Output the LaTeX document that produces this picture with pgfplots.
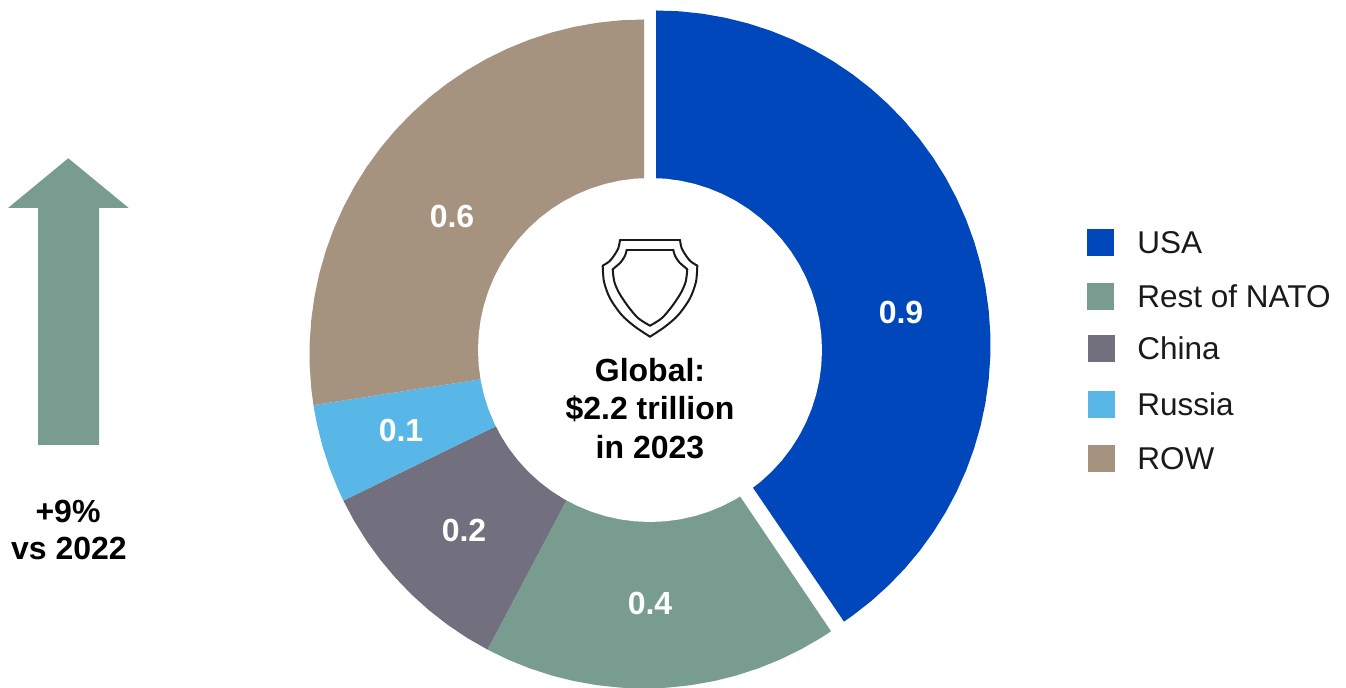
\documentclass[border=0pt]{standalone}
\usepackage{fontspec}
\setmainfont{Liberation Sans}
\usepackage{pgfplots}
\pgfplotsset{compat=1.18}
\definecolor{usa}{HTML}{0047BB}
\definecolor{nato}{HTML}{789D90}
\definecolor{china}{HTML}{72707F}
\definecolor{russia}{HTML}{59B7E8}
\definecolor{row}{HTML}{A59380}
\definecolor{ink}{HTML}{1A1A1A}
\tikzset{
  lab/.style={font=\fontsize{16}{16}\selectfont\bfseries, text=white, anchor=base, inner sep=0pt},
  blk/.style={font=\fontsize{16}{16}\selectfont\bfseries, text=black, anchor=base, inner sep=0pt},
  leg/.style={font=\fontsize{15.75}{15.75}\selectfont, text=ink, anchor=base west, inner sep=0pt},
}
\begin{document}
\begin{tikzpicture}
\path[use as bounding box] (0,0) rectangle (673pt,344pt);
% one axis unit is one pixel of the reference; origin at the centre of the ring
\begin{axis}[
    at={(0,0)}, anchor=south west,
    x=0.5pt, y=0.5pt,
    xmin=-644, xmax=702, ymin=-334, ymax=354,
    hide axis, clip=false,
    wedge/.style={draw=none, data cs=polar, forget plot},
    shield/.style={draw=ink, line width=1pt, no markers, line join=round, line cap=round, forget plot},
    swatch/.style={draw=none, fill=#1, forget plot},
]
% USA, pulled out from the ring
\addplot[wedge, fill=usa, xshift=6pt, yshift=4.5pt] coordinates {
  (0,0) (90,334.5) (86,334.5) (82,334.5) (78,334.5) (74,334.5) (70,334.5) (66,334.5) (62,334.5)
  (58,334.5) (54,334.5) (50,334.5) (46,334.5) (42,334.5) (38,334.5) (34,334.5) (30,334.5) (26,334.5)
  (22,334.5) (18,334.5) (14,334.5) (10,334.5) (6,334.5) (2,334.5) (-2,334.5) (-6,334.5) (-10,334.5)
  (-14,334.5) (-18,334.5) (-22,334.5) (-26,334.5) (-30,334.5) (-34,334.5) (-38,334.5) (-42,334.5)
  (-46,334.5) (-50,334.5) (-54,334.5) (-55.8,334.5)} -- cycle;
% Rest of NATO
\addplot[wedge, fill=nato] coordinates {
  (0,0) (242.1,334.5) (246,334.5) (250,334.5) (254,334.5) (258,334.5) (262,334.5) (266,334.5)
  (270,334.5) (274,334.5) (278,334.5) (282,334.5) (286,334.5) (290,334.5) (294,334.5) (298,334.5)
  (302,334.5) (304,334.5)} -- cycle;
% China
\addplot[wedge, fill=china] coordinates {
  (0,0) (206,334.5) (210,334.5) (214,334.5) (218,334.5) (222,334.5) (226,334.5) (230,334.5)
  (234,334.5) (238,334.5) (242.1,334.5)} -- cycle;
% Russia
\addplot[wedge, fill=russia] coordinates {
  (0,0) (188.8,334.5) (192,334.5) (196,334.5) (200,334.5) (204,334.5) (206,334.5)} -- cycle;
% ROW
\addplot[wedge, fill=row] coordinates {
  (0,0) (90,334.5) (94,334.5) (98,334.5) (102,334.5) (106,334.5) (110,334.5) (114,334.5) (118,334.5)
  (122,334.5) (126,334.5) (130,334.5) (134,334.5) (138,334.5) (142,334.5) (146,334.5) (150,334.5)
  (154,334.5) (158,334.5) (162,334.5) (166,334.5) (170,334.5) (174,334.5) (178,334.5) (182,334.5)
  (186,334.5) (188.8,334.5)} -- cycle;
% the hole
\addplot[wedge, fill=white, xshift=3pt, yshift=2pt] coordinates {
  (0,172) (5,172) (10,172) (15,172) (20,172) (25,172) (30,172) (35,172) (40,172) (45,172) (50,172)
  (55,172) (60,172) (65,172) (70,172) (75,172) (80,172) (85,172) (90,172) (95,172) (100,172)
  (105,172) (110,172) (115,172) (120,172) (125,172) (130,172) (135,172) (140,172) (145,172)
  (150,172) (155,172) (160,172) (165,172) (170,172) (175,172) (180,172) (185,172) (190,172)
  (195,172) (200,172) (205,172) (210,172) (215,172) (220,172) (225,172) (230,172) (235,172)
  (240,172) (245,172) (250,172) (255,172) (260,172) (265,172) (270,172) (275,172) (280,172)
  (285,172) (290,172) (295,172) (300,172) (305,172) (310,172) (315,172) (320,172) (325,172)
  (330,172) (335,172) (340,172) (345,172) (350,172) (355,172)} -- cycle;
% arrow
\addplot[draw=none, fill=nato, forget plot] coordinates {
  (-575.7,195.7) (-515.3,146) (-545,146) (-545,-91) (-606,-91) (-606,146) (-636,146)} -- cycle;
% shield, outer line
\addplot[shield] coordinates {(-24,114) (36,114)};
\addplot[shield, smooth] coordinates {(36,114) (37.7,105.7) (42.7,97.3) (47,92.3) (53.3,88.3)};
\addplot[shield, smooth] coordinates {(53.3,88.3) (52,72.3) (46,55.7) (34.3,39) (21,27.3) (6,17.3)};
\addplot[shield, smooth] coordinates {(6,17.3) (-9,27.3) (-22.3,39) (-34,55.7) (-40,72.3) (-41.3,88.3)};
\addplot[shield, smooth] coordinates {(-41.3,88.3) (-35,92.3) (-30.7,97.3) (-25.7,105.7) (-24,114)};
% shield, inner line
\addplot[shield] coordinates {(-17.3,104) (29.3,104)};
\addplot[shield, smooth] coordinates {(29.3,104) (31,98.3) (35.3,91.7) (43.3,84.7)};
\addplot[shield, smooth] coordinates {(43.3,84.7) (41.7,72.3) (36.7,60.7) (27.7,47.3) (17.7,35.7) (6,28.3)};
\addplot[shield, smooth] coordinates {(6,28.3) (-5.7,35.7) (-15.7,47.3) (-24.7,60.7) (-29.7,72.3) (-31.3,84.7)};
\addplot[shield, smooth] coordinates {(-31.3,84.7) (-23.3,91.7) (-19,98.3) (-17.3,104)};
% legend swatches
\addplot[swatch=usa] coordinates {(443,125) (470,125) (470,98) (443,98)} -- cycle;
\addplot[swatch=nato] coordinates {(443,71) (470,71) (470,44) (443,44)} -- cycle;
\addplot[swatch=china] coordinates {(444,19) (471,19) (471,-8) (444,-8)} -- cycle;
\addplot[swatch=russia] coordinates {(444,-37) (471,-37) (471,-64) (444,-64)} -- cycle;
\addplot[swatch=row] coordinates {(444,-91) (471,-91) (471,-118) (444,-118)} -- cycle;
% legend text
\node[leg] at (axis cs:493,100) {USA};
\node[leg] at (axis cs:493,46) {Rest of NATO};
\node[leg] at (axis cs:493,-6) {China};
\node[leg] at (axis cs:493,-62) {Russia};
\node[leg] at (axis cs:493,-116) {ROW};
% slice values
\node[lab] at (axis cs:257,30) {0.9};
\node[lab] at (axis cs:6,-261) {0.4};
\node[lab] at (axis cs:-180,-188) {0.2};
\node[lab] at (axis cs:-243,-88) {0.1};
\node[lab] at (axis cs:-192,126) {0.6};
% centre text
\node[blk] at (axis cs:6,-28) {Global:};
\node[blk] at (axis cs:6,-66) {\$2.2 trillion};
\node[blk] at (axis cs:6,-105) {in 2023};
% arrow text
\node[blk] at (axis cs:-576,-169) {+9\%};
\node[blk] at (axis cs:-575,-206) {vs 2022};
\end{axis}
\end{tikzpicture}
\end{document}
